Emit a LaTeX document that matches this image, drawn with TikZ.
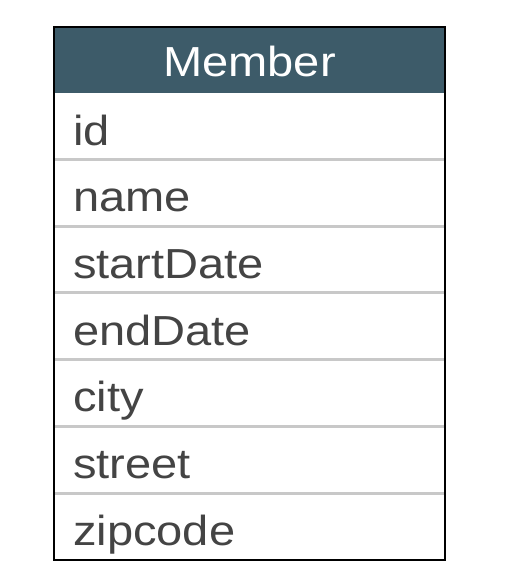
\documentclass[tikz,border=0pt]{standalone}
\usepackage{fontspec}
\setmainfont[FakeStretch=1.12]{Liberation Sans}
\usetikzlibrary{positioning}
\definecolor{headteal}{HTML}{3D5B69}
\definecolor{rowgray}{HTML}{C8C8C8}
\definecolor{fieldtext}{HTML}{444444}
\tikzset{
  field/.style={anchor=base west, inner sep=0pt, text=fieldtext, font=\fontsize{42}{50}\selectfont},
  title/.style={anchor=base, inner sep=0pt, text=white, font=\fontsize{42}{50}\selectfont},
  rowline/.style={draw=rowgray, line width=3pt},
}

\begin{document}
\begin{tikzpicture}[x=1pt,y=-1pt]
        \useasboundingbox (0,0) rectangle (506,586);
        % Header
        \fill[headteal] (54,27) rectangle (445,93);
        \node[title] (member) at (249.5,77) {Member};
        % Row separators
        \draw[rowline] (54,159.5) -- (445,159.5);
        \draw[rowline] (54,226) -- (445,226);
        \draw[rowline] (54,292.5) -- (445,292.5);
        \draw[rowline] (54,359) -- (445,359);
        \draw[rowline] (54,426) -- (445,426);
        \draw[rowline] (54,493) -- (445,493);
        % Fields
        \node[field] (id) at (73,145) {id};
        \node[field] (name) at (73,211.5) {name};
        \node[field] (startdate) at (73,278.5) {startDate};
        \node[field] (enddate) at (73,345) {endDate};
        \node[field] (city) at (73,411.5) {city};
        \node[field] (street) at (73,478.5) {street};
        \node[field] (zipcode) at (73,545) {zipcode};
        % Frame
        \draw[line width=1.5pt] (54,27) rectangle (445,560);
    \end{tikzpicture}
\end{document}
